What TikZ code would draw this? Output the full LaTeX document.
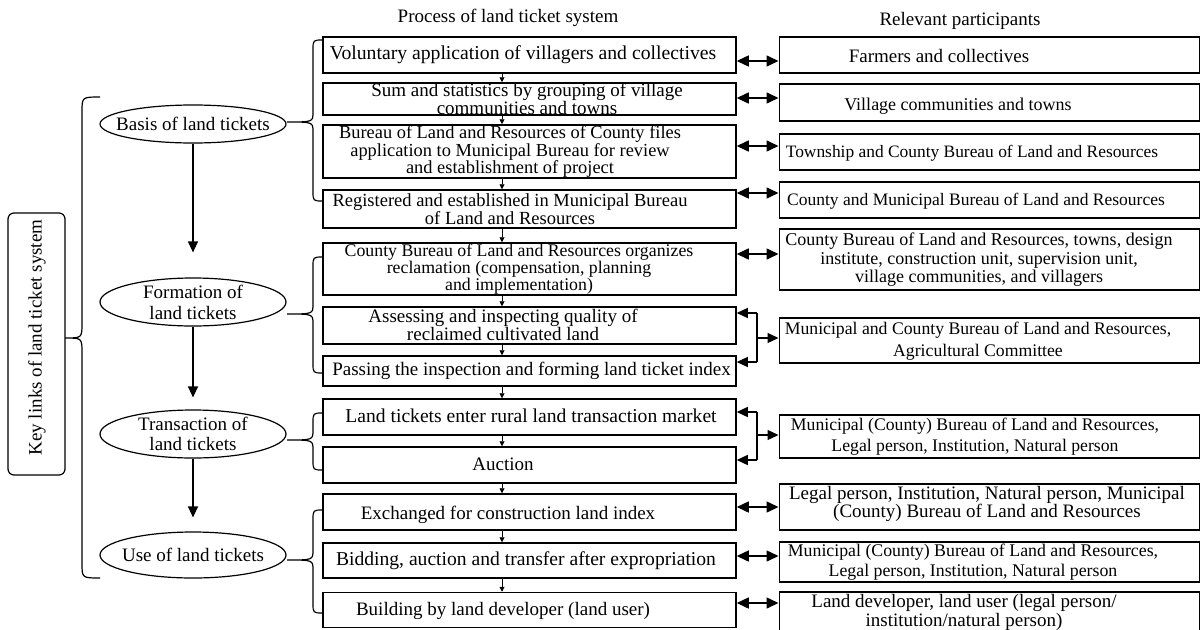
\documentclass[tikz,border=0pt]{standalone}
\usepackage{fontspec}
\setmainfont{Liberation Serif}
\usetikzlibrary{shapes.geometric,arrows.meta,calc}
\newcommand{\fs}[2]{\fontsize{#1pt}{#2pt}\selectfont}
% xend, xv, xtip, ytop, ytip, ybot, r
\newcommand{\mybrace}[7]{%
 \draw[brc] (#1,#4) .. controls (#2,#4) .. (#2,#4+#7) -- (#2,#5-#7)
   .. controls (#2,#5) .. (#3,#5) .. controls (#2,#5) .. (#2,#5+#7)
   -- (#2,#6-#7) .. controls (#2,#6) .. (#1,#6);}
\begin{document}
\begin{tikzpicture}[x=1pt,y=-1pt,
 box/.style={draw, line width=1.5pt, minimum width=413pt, inner sep=0pt},
 rbox/.style={draw, line width=1.5pt, minimum width=420pt, inner sep=0pt},
 txt/.style={align=center, inner sep=0pt, font=\fs{19}{18}},
 ell/.style={draw, ellipse, line width=1.2pt, minimum width=186pt, inner sep=0pt},
 brc/.style={line width=1.2pt},
 bigarr/.style={-{Triangle[length=11pt,width=10pt]}, line width=1.2pt},
 thinline/.style={line width=1.2pt},
 dbl/.style={{Triangle[length=12pt,width=11pt]}-{Triangle[length=12pt,width=11pt]}, line width=1.5pt},
 sarr/.style={-{Triangle[length=5pt,width=5pt]}, line width=0.9pt}]
\useasboundingbox (0,0) rectangle (1201,629);
\fill[white] (0,0) rectangle (1201,629);

% headers
\node[txt] (h1) at (508,18) {Process of land ticket system};
\node[txt] (h2) at (960,21) {Relevant participants};

% middle boxes
\node[box, minimum height=36pt] (m1) at (529.5,55) {};
\node[box, minimum height=32pt] (m2) at (529.5,99) {};
\node[box, minimum height=53pt] (m3) at (529.5,151.5) {};
\node[box, minimum height=38pt] (m4) at (529.5,209) {};
\node[box, minimum height=52pt] (m5) at (529.5,269) {};
\node[box, minimum height=37pt] (m6) at (529.5,325.5) {};
\node[box, minimum height=30pt] (m7) at (529.5,371) {};
\node[box, minimum height=36pt] (m8) at (529.5,417) {};
\node[box, minimum height=36pt] (m9) at (529.5,465) {};
\node[box, minimum height=36pt] (m10) at (529.5,512) {};
\node[box, minimum height=35pt] (m11) at (529.5,560.5) {};
\node[box, minimum height=35pt] (m12) at (529.5,610) {};

\node[txt, font=\fs{19.7}{18}] (t1) at (523,55) {Voluntary application of villagers and collectives};
\node[txt, font=\fs{19}{15.5}] (t2) at (527,99) {Sum and statistics by grouping of village\\communities and towns};
\node[txt, font=\fs{18.4}{15.5}] (t3) at (510,151.5) {Bureau of Land and Resources of County files\\application to Municipal Bureau for review\\and establishment of project};
\node[txt, font=\fs{18.5}{18}] (t4) at (510,209) {Registered and established in Municipal Bureau\\of Land and Resources};
\node[txt, font=\fs{17.8}{15}] (t5) at (519,269) {County Bureau of Land and Resources organizes\\reclamation (compensation, planning\\and implementation)};
\node[txt] (t6) at (503,325) {Assessing and inspecting quality of\\reclaimed cultivated land};
\node[txt] (t7) at (531.5,371) {Passing the inspection and forming land ticket index};
\node[txt, font=\fs{19.6}{18}] (t8) at (531,416) {Land tickets enter rural land transaction market};
\node[txt] (t9) at (503,464) {Auction};
\node[txt] (t10) at (508,515) {Exchanged for construction land index};
\node[txt, font=\fs{19.6}{18}] (t11) at (526,561) {Bidding, auction and transfer after expropriation};
\node[txt] (t12) at (503,611) {Building by land developer (land user)};

% small arrows between process boxes
\foreach \a/\b in {m1/m2,m2/m3,m3/m4,m4/m5,m5/m6,m6/m7,m7/m8,m8/m9,m9/m10,m10/m11,m11/m12}
  \draw[sarr] (\a.south -| 502,0) -- (\b.north -| 502,0);

% right boxes
\node[rbox, minimum height=36pt] (r1) at (989.25,55) {};
\node[rbox, minimum height=37pt] (r2) at (989.25,102.5) {};
\node[rbox, minimum height=36pt] (r3) at (989.25,152) {};
\node[rbox, minimum height=36pt] (r4) at (989.25,200) {};
\node[rbox, minimum height=61pt] (r5) at (989.25,259.5) {};
\node[rbox, minimum height=45pt] (r6) at (989.25,340.5) {};
\node[rbox, minimum height=43pt] (r7) at (989.25,436.5) {};
\node[rbox, minimum height=46pt] (r8) at (989.25,507) {};
\node[rbox, minimum height=40pt] (r9) at (989.25,562) {};
\node[rbox, minimum height=42pt] (r10) at (989.25,613) {};

\node[txt] (u1) at (939,56) {Farmers and collectives};
\node[txt, font=\fs{18}{18}] (u2) at (958,106) {Village communities and towns};
\node[txt, font=\fs{17.4}{18}] (u3) at (972,153) {Township and County Bureau of Land and Resources};
\node[txt, font=\fs{17.5}{18}] (u4) at (976,201) {County and Municipal Bureau of Land and Resources};
\node[txt, font=\fs{18}{18.5}] (u5) at (979,260) {County Bureau of Land and Resources, towns, design\\institute, construction unit, supervision unit,\\village communities, and villagers};
\node[txt, font=\fs{17.7}{21.5}] (u6) at (978,341) {Municipal and County Bureau of Land and Resources,\\Agricultural Committee};
\node[txt, font=\fs{17.7}{21.5}] (u7) at (975,436.5) {Municipal (County) Bureau of Land and Resources,\\Legal person, Institution, Natural person};
\node[txt] (u8) at (987,504) {Legal person, Institution, Natural person, Municipal\\(County) Bureau of Land and Resources};
\node[txt, font=\fs{17.8}{19.5}] (u9) at (973,562) {Municipal (County) Bureau of Land and Resources,\\Legal person, Institution, Natural person};
\node[txt, font=\fs{19}{19}] (u10) at (964,612.5) {Land developer, land user (legal person/\\institution/natural person)};

% double arrows
\draw[dbl] (m1.east |- 0,61) -- (r1.west |- 0,61);
\draw[dbl] (m2.east |- 0,98) -- (r2.west |- 0,98);
\draw[dbl] (m3.east |- 0,146) -- (r3.west |- 0,146);
\draw[dbl] (m4.east |- 0,193) -- (r4.west |- 0,193);
\draw[dbl] (m5.east |- 0,254) -- (r5.west |- 0,254);
\draw[dbl] (m10.east |- 0,507) -- (r8.west |- 0,507);
\draw[dbl] (m11.east |- 0,556) -- (r9.west |- 0,556);
\draw[dbl] (m12.east |- 0,603) -- (r10.west |- 0,603);

% bracket connectors
\coordinate (ja) at (757,313);
\coordinate (jb) at (757,362);
\coordinate (jc) at (757,338);
\draw[thinline] (ja) -- (jb);
\draw[bigarr] (ja) -- (m6.east |- ja);
\draw[bigarr] (jb) -- (m7.east |- jb);
\draw[bigarr] (jc) -- (r6.west |- jc);
\coordinate (ka) at (757,412);
\coordinate (kb) at (757,460);
\coordinate (kc) at (757,435);
\draw[thinline] (ka) -- (kb);
\draw[bigarr] (ka) -- (m8.east |- ka);
\draw[bigarr] (kb) -- (m9.east |- kb);
\draw[bigarr] (kc) -- (r7.west |- kc);

% ellipses
\node[ell, minimum height=38pt] (e1) at (193,124) {};
\node[ell, minimum height=48pt] (e2) at (193,302) {};
\node[ell, minimum height=48pt] (e3) at (193,434) {};
\node[ell, minimum height=46pt] (e4) at (193,555) {};
\node[txt] (f1) at (e1.center) {Basis of land tickets};
\node[txt, font=\fs{19}{21}] (f2) at (e2.center) {Formation of\\land tickets};
\node[txt, font=\fs{19}{20}] (f3) at (e3.center) {Transaction of\\land tickets};
\node[txt] (f4) at (e4.center) {Use of land tickets};

\draw[bigarr] (e1.south) -- ($(e2.north)+(0,-25)$);
\draw[bigarr] (e2.south) -- ($(e3.north)+(0,-12)$);
\draw[bigarr] (e3.south) -- ($(e4.north)+(0,-14)$);

% key box
\node[draw, rounded corners=6pt, line width=1.2pt, minimum width=57pt, minimum height=262pt, inner sep=0pt] (key) at (36.5,344) {};
\node[txt, rotate=90] (kt) at (37,337.5) {Key links of land ticket system};

% braces
\mybrace{100}{82}{65}{97}{338}{578}{15}
\mybrace{323}{313}{287}{40}{122}{201}{10}
\mybrace{323}{313}{287}{257}{314}{373}{10}
\mybrace{323}{313}{287}{413}{440}{470}{10}
\mybrace{323}{313}{287}{510}{560}{613}{10}
\end{tikzpicture}
\end{document}
